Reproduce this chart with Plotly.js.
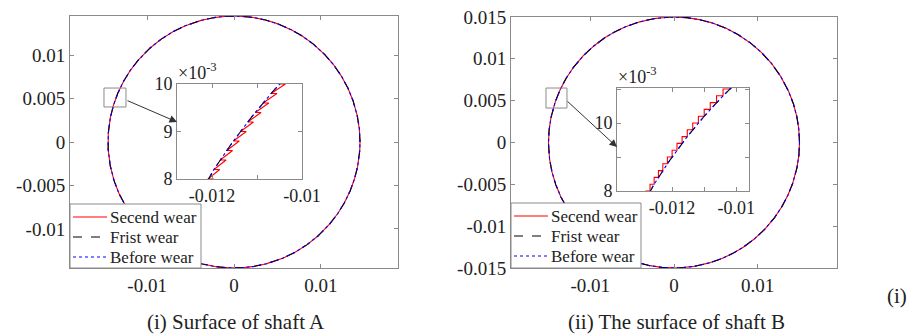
<!DOCTYPE html>
<html>
<head>
<meta charset="utf-8">
<script src="https://cdn.plot.ly/plotly-3.0.1.min.js"></script>
<style>html,body{margin:0;padding:0;background:#fff;font-family:'Liberation Serif',serif;}#chart{width:917px;height:334px;}</style>
</head>
<body>
<div id="chart"></div>
<script>
// ---- data ----
const seriesNames = ['Secend wear', 'Frist wear', 'Before wear'];
const radiusA = [0.0145, 0.0145, 0.0145];   // shaft A profile radius per series
const radiusB = [0.015, 0.015, 0.015];      // shaft B profile radius per series

// zoomed red ("Secend wear") profile
const redInsetAx = [-0.012223, -0.011963, -0.012093, -0.011829, -0.011959, -0.011689, -0.011819,
  -0.011544, -0.011674, -0.011394, -0.011524, -0.011239, -0.011369, -0.011078, -0.011208,
  -0.010910, -0.011040, -0.010737, -0.010867, -0.010557, -0.010687, -0.010370, -0.010500,
  -0.010176, -0.010306];
const redInsetAy = [0.0078, 0.0080, 0.0080, 0.0082, 0.0082, 0.0084, 0.0084, 0.0086, 0.0086,
  0.0088, 0.0088, 0.0090, 0.0090, 0.0092, 0.0092, 0.0094, 0.0094, 0.0096, 0.0096, 0.0098,
  0.0098, 0.0100, 0.0100, 0.0102, 0.0102];
const redInsetBx = [-0.012813, -0.012813, -0.012689, -0.012689, -0.012560, -0.012560, -0.012427,
  -0.012427, -0.012290, -0.012290, -0.012147, -0.012147, -0.012000, -0.012000, -0.011847,
  -0.011847, -0.011689, -0.011689, -0.011526, -0.011526, -0.011356, -0.011356, -0.011180,
  -0.011180, -0.010998, -0.010998, -0.010809, -0.010809, -0.010613, -0.010613, -0.010410,
  -0.010410, -0.010198, -0.010198, -0.009978];
const redInsetBy = [0.0078, 0.0080, 0.0080, 0.0082, 0.0082, 0.0084, 0.0084, 0.0086, 0.0086,
  0.0088, 0.0088, 0.0090, 0.0090, 0.0092, 0.0092, 0.0094, 0.0094, 0.0096, 0.0096, 0.0098,
  0.0098, 0.0100, 0.0100, 0.0102, 0.0102, 0.0104, 0.0104, 0.0106, 0.0106, 0.0108, 0.0108,
  0.0110, 0.0110, 0.0112, 0.0112];

// tick labels
const mainXTicks = [-0.01, 0, 0.01];
const mainXLabels = ['-0.01', '0', '0.01'];
const mainYTicksA = [-0.01, -0.005, 0, 0.005, 0.01];
const mainYLabelsA = ['-0.01', '-0.005', '0', '0.005', '0.01'];
const mainYTicksB = [-0.015, -0.01, -0.005, 0, 0.005, 0.01, 0.015];
const mainYLabelsB = ['-0.015', '-0.01', '-0.005', '0', '0.005', '0.01', '0.015'];
const insetXTicks = [-0.012, -0.01];
const insetXLabels = ['-0.012', '-0.01'];
const insetXMinor = [-0.011];
const insetYTicksA = [0.008, 0.009, 0.010];
const insetYLabelsA = ['8', '9', '10'];
const insetYTicksB = [0.008, 0.010];
const insetYLabelsB = ['8', '10'];
const insetYMinorB = [0.009, 0.011];
const captions = ['(i) Surface of shaft A', '(ii) The surface of shaft B', '(i)'];

// ---- styling ----
const colors = ['#ff0000', '#000000', '#0000ff'];
const dashes = ['solid', 'dash', 'dot'];
const FONT = 'Liberation Serif';

function circle(r) {
  const N = 2000, x = [], y = [];
  for (let i = 0; i <= N; i++) {
    const t = 2 * Math.PI * i / N;
    x.push(r * Math.cos(t)); y.push(r * Math.sin(t));
  }
  return {x, y};
}

const traces = [];
function addSet(radii, xa, ya, xi, yi, redX, redY) {
  radii.forEach((r, k) => {
    const c = circle(r);
    traces.push({x: c.x, y: c.y, xaxis: xa, yaxis: ya, mode: 'lines', name: seriesNames[k],
      line: {color: colors[k], width: 1.1, dash: dashes[k]}, showlegend: false, hoverinfo: 'skip'});
  });
  radii.forEach((r, k) => {
    const c = (k === 0) ? {x: redX, y: redY} : circle(r);
    traces.push({x: c.x, y: c.y, xaxis: xi, yaxis: yi, mode: 'lines', name: seriesNames[k],
      line: {color: colors[k], width: 1.1, dash: dashes[k]}, showlegend: false, hoverinfo: 'skip'});
  });
}
addSet(radiusA, 'x', 'y', 'x2', 'y2', redInsetAx, redInsetAy);
addSet(radiusB, 'x3', 'y3', 'x4', 'y4', redInsetBx, redInsetBy);

const W = 917, H = 334;
const px = v => v / W, py = v => 1 - v / H;

function ax(domain, range, tv, tt, size, minorVals) {
  const a = {domain, range, tickmode: 'array', tickvals: tv, ticktext: tt, showgrid: false,
    zeroline: false, showline: true, mirror: 'ticks', linecolor: '#8a8a8a', linewidth: 1,
    ticks: 'inside', ticklen: 4, tickcolor: '#8a8a8a',
    tickfont: {family: FONT, size: size, color: '#222'}, fixedrange: true};
  if (minorVals) {
    a.minor = {tickmode: 'array', tickvals: minorVals, ticks: 'inside', ticklen: 4,
      tickcolor: '#8a8a8a', showgrid: false};
  }
  return a;
}

const shapes = [
  {type: 'rect', xref: 'x2 domain', yref: 'y2 domain', x0: 0, x1: 1, y0: 0, y1: 1,
    fillcolor: '#fff', line: {width: 0}, layer: 'below'},
  {type: 'rect', xref: 'x4 domain', yref: 'y4 domain', x0: 0, x1: 1, y0: 0, y1: 1,
    fillcolor: '#fff', line: {width: 0}, layer: 'below'},
  {type: 'rect', xref: 'x', yref: 'y', x0: -0.01496, x1: -0.01243, y0: 0.00403, y1: 0.00621,
    line: {color: '#8a8a8a', width: 1}, layer: 'above'},
  {type: 'rect', xref: 'x3', yref: 'y3', x0: -0.0153, x1: -0.01279, y0: 0.00412, y1: 0.00651,
    line: {color: '#8a8a8a', width: 1}, layer: 'above'}
];
const annotations = [
  {xref: 'paper', yref: 'paper', x: px(177), y: py(122), ax: -51, ay: -22, text: '',
    showarrow: true, arrowhead: 2, arrowsize: 1.5, arrowwidth: 1, arrowcolor: '#333'},
  {xref: 'paper', yref: 'paper', x: px(617), y: py(147), ax: -51, ay: -47, text: '',
    showarrow: true, arrowhead: 2, arrowsize: 1.5, arrowwidth: 1, arrowcolor: '#333'},
  {xref: 'paper', yref: 'paper', x: px(176), y: py(85), xanchor: 'left', yanchor: 'bottom',
    text: '×10<sup>-3</sup>', showarrow: false, font: {family: FONT, size: 18, color: '#222'}},
  {xref: 'paper', yref: 'paper', x: px(616), y: py(89), xanchor: 'left', yanchor: 'bottom',
    text: '×10<sup>-3</sup>', showarrow: false, font: {family: FONT, size: 18, color: '#222'}},
  {xref: 'paper', yref: 'paper', x: px(236), y: py(322), xanchor: 'center', yanchor: 'middle',
    text: captions[0], showarrow: false, font: {family: FONT, size: 21, color: '#222'}},
  {xref: 'paper', yref: 'paper', x: px(676), y: py(322), xanchor: 'center', yanchor: 'middle',
    text: captions[1], showarrow: false, font: {family: FONT, size: 21, color: '#222'}},
  {xref: 'paper', yref: 'paper', x: px(897), y: py(296), xanchor: 'center', yanchor: 'middle',
    text: captions[2], showarrow: false, font: {family: FONT, size: 21, color: '#222'}}
];

// manual legends (MATLAB-style compact boxes)
function legendBox(left, top, right, bottom) {
  shapes.push({type: 'rect', xref: 'paper', yref: 'paper', x0: px(left), x1: px(right),
    y0: py(bottom), y1: py(top), fillcolor: '#fff', line: {color: '#8a8a8a', width: 1}, layer: 'above'});
  seriesNames.forEach((nm, k) => {
    const yc = top + 13 + 20 * k;
    shapes.push({type: 'line', xref: 'paper', yref: 'paper', x0: px(left + 3), x1: px(left + 37),
      y0: py(yc), y1: py(yc), line: {color: colors[k], width: 1.2, dash: dashes[k]}, layer: 'above'});
    annotations.push({xref: 'paper', yref: 'paper', x: px(left + 38), y: py(yc), xanchor: 'left',
      yanchor: 'middle', text: nm, showarrow: false, font: {family: FONT, size: 17, color: '#222'}});
  });
}
legendBox(70, 204, 201, 268);
legendBox(511, 203, 641, 268);

const layout = {
  width: W, height: H,
  margin: {l: 0, r: 0, t: 0, b: 0},
  paper_bgcolor: '#fff', plot_bgcolor: '#fff',
  font: {family: FONT, color: '#222', size: 18},
  showlegend: false,
  xaxis: Object.assign(ax([px(70), px(398)], [-0.01887, 0.01887], mainXTicks, mainXLabels, 19), {anchor: 'y'}),
  yaxis: Object.assign(ax([1 - 268 / H, 1 - 16 / H], [-0.0145, 0.0145], mainYTicksA, mainYLabelsA, 19), {anchor: 'x'}),
  xaxis2: Object.assign(ax([px(177), px(302)], [-0.01278, -0.0100], insetXTicks, insetXLabels, 18, insetXMinor), {anchor: 'y2'}),
  yaxis2: Object.assign(ax([1 - 179 / H, 1 - 84 / H], [0.008, 0.010], insetYTicksA, insetYLabelsA, 18), {anchor: 'x2'}),
  xaxis3: Object.assign(ax([px(511), px(837)], [-0.01948, 0.01948], mainXTicks, mainXLabels, 19), {anchor: 'y3'}),
  yaxis3: Object.assign(ax([1 - 268 / H, 1 - 17 / H], [-0.015, 0.015], mainYTicksB, mainYLabelsB, 19), {anchor: 'x3'}),
  xaxis4: Object.assign(ax([px(617), px(749)], [-0.01372, -0.0096], insetXTicks, insetXLabels, 18, insetXMinor), {anchor: 'y4'}),
  yaxis4: Object.assign(ax([1 - 191 / H, 1 - 88 / H], [0.008, 0.01103], insetYTicksB, insetYLabelsB, 18, insetYMinorB), {anchor: 'x4'}),
  shapes, annotations
};

Plotly.newPlot('chart', traces, layout, {displayModeBar: false, staticPlot: true});
</script>
</body>
</html>
